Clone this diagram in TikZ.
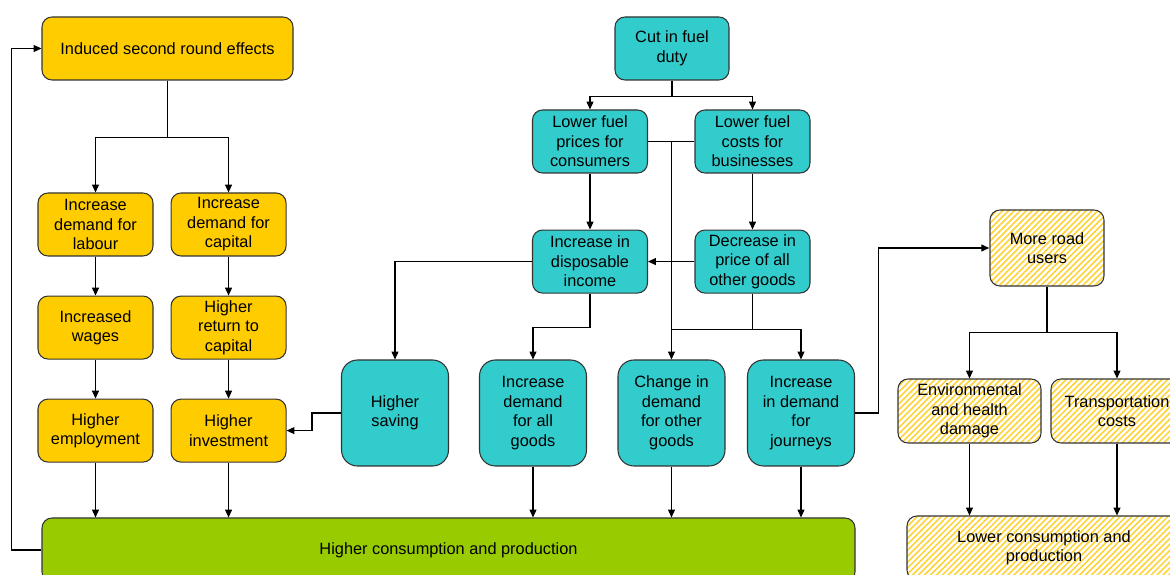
\documentclass[tikz,border=0pt]{standalone}
\usepackage{fontspec}
\setmainfont{Liberation Sans}
\usepackage{xcolor}
\usetikzlibrary{arrows.meta, positioning, calc, patterns.meta}
\definecolor{amberfill}{HTML}{FFCC00}
\definecolor{tealfill}{HTML}{33CCCC}
\definecolor{greenfill}{HTML}{99CC00}
\definecolor{hatchyellow}{HTML}{FFD233}
\definecolor{edgegray}{HTML}{333333}
\tikzset{
  box/.style={rectangle, rounded corners=0.2cm, minimum width=2.3cm, minimum height=1.26cm, align=center, inner sep=1pt, draw=edgegray, line width=0.6pt, font=\fontsize{9.3}{11.1}\selectfont},
  amber/.style={box, fill=amberfill},
  teal/.style={box, fill=tealfill},
  tallteal/.style={box, fill=tealfill, rounded corners=0.32cm, minimum width=2.14cm, minimum height=2.12cm},
  wide/.style={box, fill=greenfill, minimum height=1.28cm},
  hatched/.style={box, pattern={Lines[angle=45, distance=2.4pt, line width=0.9pt]}, pattern color=hatchyellow},
  line/.style={line width=0.6pt},
  arrow/.style={line width=0.6pt, -{Triangle[length=4.5pt, width=4pt]}}
}
\begin{document}
\begin{tikzpicture}
\useasboundingbox (0,0) rectangle (23.4,-11.5);
\clip (0,0) rectangle (23.4,-11.5);
% Second round effects (left)
\node[amber, minimum width=5.02cm] (induced) at (3.35,-0.97) {Induced second round effects};
\node[amber] (dlabour) at (1.91,-4.49) {Increase\\demand for\\labour};
\node[amber, right=0.34cm of dlabour] (dcapital) {Increase\\demand for\\capital};
\node[amber, below=0.78cm of dlabour] (wages) {Increased\\wages};
\node[amber, below=0.78cm of dcapital] (return) {Higher\\return to\\capital};
\node[amber, below=0.78cm of wages] (employ) {Higher\\employment};
\node[amber, below=0.78cm of return] (invest) {Higher\\investment};

\node[wide, minimum width=16.26cm] (consprod) at (8.97,-11.0) {Higher consumption and production};

% Fuel duty chain (middle)
\node[teal, minimum width=2.28cm] (cut) at (13.44,-0.97) {Cut in fuel\\duty};
\node[teal] (lprice) at (11.8,-2.83) {Lower fuel\\prices for\\consumers};
\node[teal] (lcost) at (15.05,-2.83) {Lower fuel\\costs for\\businesses};
\node[teal, below=1.12cm of lprice] (income) {Increase in\\disposable\\income};
\node[teal, below=1.12cm of lcost] (decrease) {Decrease in\\price of all\\other goods};

\node[tallteal] (saving) at (7.9,-8.26) {Higher\\saving};
\node[tallteal] (allgoods) at (10.66,-8.26) {Increase\\demand\\for all\\goods};
\node[tallteal] (othergoods) at (13.43,-8.26) {Change in\\demand\\for other\\goods};
\node[tallteal] (journeys) at (16.02,-8.26) {Increase\\in demand\\for\\journeys};

% Road users (right)
\node[hatched, minimum width=2.28cm, minimum height=1.52cm] (roadusers) at (20.94,-4.96) {More road\\users};
\node[hatched, minimum width=2.86cm, minimum height=1.28cm] (envdamage) at (19.39,-8.22) {Environmental\\and health\\damage};
\node[hatched, minimum width=2.64cm, minimum height=1.28cm] (transport) at (22.34,-8.22) {Transportation\\costs};
\node[hatched, minimum width=5.48cm, minimum height=1.28cm] (lowercons) at (20.88,-10.96) {Lower consumption and\\production};

% connectors, left
\draw[arrow] (induced.south) -- ++(0,-1.14) -| (dlabour.north);
\draw[arrow] (induced.south) -- ++(0,-1.14) -| (dcapital.north);
\draw[arrow] (dlabour) -- (wages);
\draw[arrow] (dcapital) -- (return);
\draw[arrow] (wages) -- (employ);
\draw[arrow] (return) -- (invest);
\draw[arrow] (employ.south) -- (employ.south |- consprod.north);
\draw[arrow] (invest.south) -- (invest.south |- consprod.north);
\draw[arrow] (consprod.west) -- ++(-0.6,0) |- (induced.west);

% connectors, middle
\draw[arrow] (cut.south) -- ++(0,-0.32) -| (lprice.north);
\draw[arrow] (cut.south) -- ++(0,-0.32) -| (lcost.north);
\draw[arrow] (lprice) -- (income);
\draw[arrow] (lcost) -- (decrease);
\draw[line] (lprice.east) -- (lcost.west);
\draw[arrow] (othergoods.north |- lprice.east) -- (othergoods.north);
\draw[line] (decrease.south) -- ++(0,-0.72) coordinate (dsplit);
\draw[line] (dsplit) -- (dsplit -| othergoods.north);
\draw[arrow] (dsplit) -| (journeys.north);
\draw[arrow] (decrease.west) -- (income.east);
\draw[arrow] (income.west) -| (saving.north);
\draw[arrow] (income.south) -- ++(0,-0.68) -| (allgoods.north);
\draw[arrow] (saving.west) -- ++(-0.58,0) |- (invest.east);
\draw[arrow] (allgoods.south) -- (allgoods.south |- consprod.north);
\draw[arrow] (othergoods.south) -- (othergoods.south |- consprod.north);
\draw[arrow] (journeys.south) -- (journeys.south |- consprod.north);

% connectors, right
\draw[arrow] (journeys.east) -- ++(0.46,0) |- (roadusers.west);
\draw[arrow] (roadusers.south) -- ++(0,-0.92) -| (envdamage.north);
\draw[arrow] (roadusers.south) -- ++(0,-0.92) -| (transport.north);
\draw[arrow] (envdamage.south) -- (envdamage.south |- lowercons.north);
\draw[arrow] (transport.south) -- (transport.south |- lowercons.north);
\end{tikzpicture}
\end{document}
